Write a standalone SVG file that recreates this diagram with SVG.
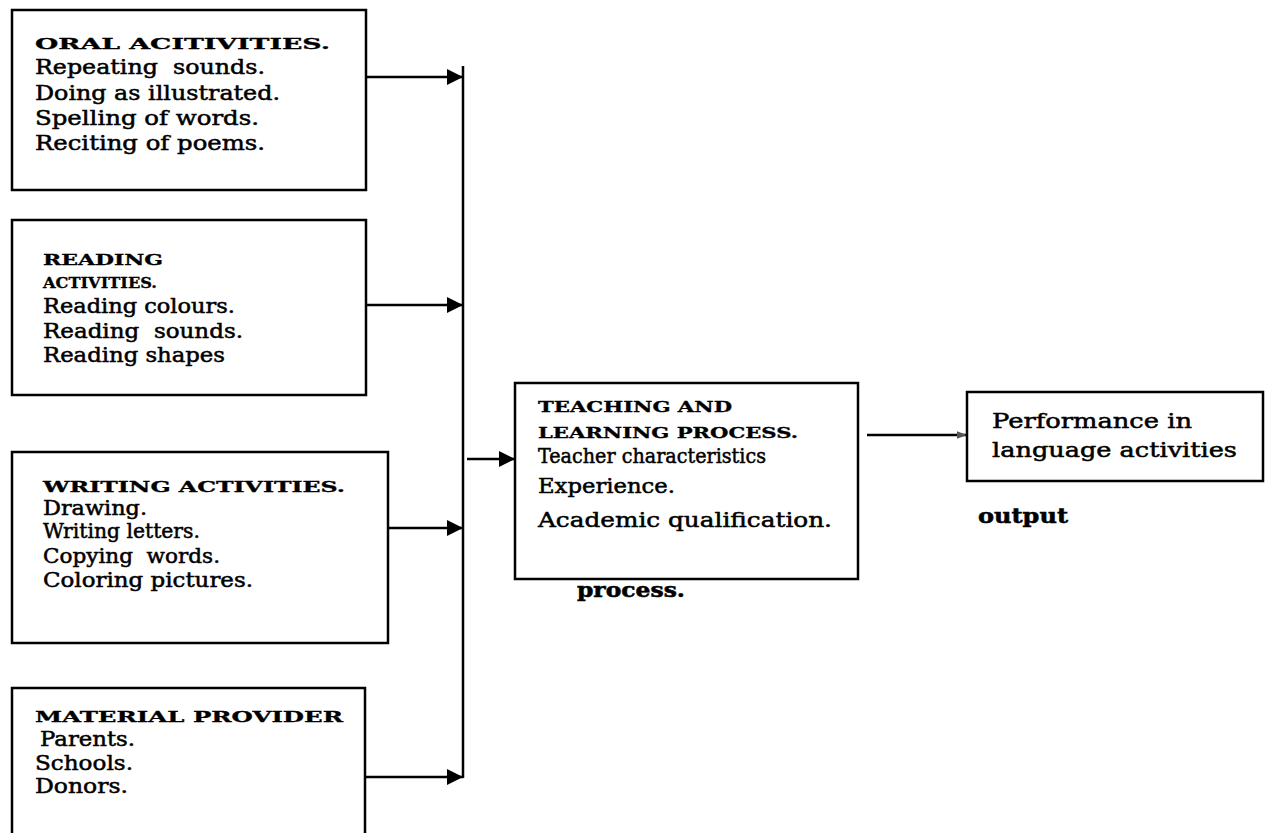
<svg xmlns="http://www.w3.org/2000/svg" width="1268" height="833" viewBox="0 0 1268 833">
<style>
.box{fill:#fff;stroke:#000;stroke-width:2.5}
.t{font-family:"DejaVu Serif","Liberation Serif",serif;fill:#000;font-size:20px;stroke:#000;stroke-width:0.5}
.h{font-family:"DejaVu Serif","Liberation Serif",serif;fill:#000;font-size:15px;font-weight:bold;stroke:#000;stroke-width:0.3}
.c{stroke:#000;stroke-width:2.5;fill:none}
</style>
<defs>
<marker id="ah" markerUnits="userSpaceOnUse" markerWidth="16" markerHeight="16" refX="14" refY="7" orient="auto" viewBox="0 0 14 14">
<path d="M0,0 L14,7 L0,14 Z" fill="#000"/>
</marker>
<marker id="ahs" markerUnits="userSpaceOnUse" markerWidth="10" markerHeight="10" refX="8" refY="4" orient="auto" viewBox="0 0 8 8">
<path d="M0,1 L8,4 L0,7 Z" fill="#555"/>
</marker>
</defs>
<rect width="1268" height="833" fill="#fff"/>
<g id="connectors">
<line class="c" x1="463" y1="66" x2="463" y2="778" stroke-width="3"/>
<line class="c" x1="366" y1="77" x2="463" y2="77" marker-end="url(#ah)"/>
<line class="c" x1="366" y1="305" x2="463" y2="305" marker-end="url(#ah)"/>
<line class="c" x1="388" y1="528" x2="463" y2="528" marker-end="url(#ah)"/>
<line class="c" x1="365" y1="777" x2="463" y2="777" marker-end="url(#ah)"/>
<line class="c" x1="467" y1="459" x2="515" y2="459" marker-end="url(#ah)"/>
<line class="c" x1="867" y1="435" x2="967" y2="435" stroke-width="2" marker-end="url(#ahs)"/>
</g>
<g id="label-process">
<text class="t" x="577" y="597" font-size="24" font-weight="bold" textLength="108" lengthAdjust="spacingAndGlyphs">process.</text>
</g>
<g id="oral">
<rect class="box" x="12" y="10" width="354" height="180"/>
<text class="h" x="35" y="49" textLength="295" lengthAdjust="spacingAndGlyphs">ORAL ACITIVITIES.</text>
<text class="t" x="35" y="74" textLength="230" lengthAdjust="spacingAndGlyphs" xml:space="preserve">Repeating  sounds.</text>
<text class="t" x="35" y="100" textLength="245" lengthAdjust="spacingAndGlyphs">Doing as illustrated.</text>
<text class="t" x="35" y="125" textLength="224" lengthAdjust="spacingAndGlyphs">Spelling of words.</text>
<text class="t" x="35" y="150" textLength="230" lengthAdjust="spacingAndGlyphs">Reciting of poems.</text>
</g>
<g id="reading">
<rect class="box" x="12" y="220" width="354" height="175"/>
<text class="h" x="43" y="265" textLength="120" lengthAdjust="spacingAndGlyphs">READING</text>
<text class="h" x="43" y="288" textLength="114" lengthAdjust="spacingAndGlyphs">ACTIVITIES.</text>
<text class="t" x="43" y="313" textLength="192" lengthAdjust="spacingAndGlyphs">Reading colours.</text>
<text class="t" x="43" y="338" textLength="200" lengthAdjust="spacingAndGlyphs" xml:space="preserve">Reading  sounds.</text>
<text class="t" x="43" y="362" textLength="182" lengthAdjust="spacingAndGlyphs">Reading shapes</text>
</g>
<g id="writing">
<rect class="box" x="12" y="452" width="376" height="191"/>
<text class="h" x="43" y="492" textLength="302" lengthAdjust="spacingAndGlyphs">WRITING ACTIVITIES.</text>
<text class="t" x="43" y="515" textLength="104" lengthAdjust="spacingAndGlyphs">Drawing.</text>
<text class="t" x="43" y="538" textLength="157" lengthAdjust="spacingAndGlyphs">Writing letters.</text>
<text class="t" x="43" y="563" textLength="177" lengthAdjust="spacingAndGlyphs" xml:space="preserve">Copying  words.</text>
<text class="t" x="43" y="587" textLength="210" lengthAdjust="spacingAndGlyphs">Coloring pictures.</text>
</g>
<g id="material">
<rect class="box" x="12" y="688" width="353" height="160"/>
<text class="h" x="35" y="722" textLength="308" lengthAdjust="spacingAndGlyphs">MATERIAL PROVIDER</text>
<text class="t" x="40" y="746" textLength="95" lengthAdjust="spacingAndGlyphs">Parents.</text>
<text class="t" x="35" y="770" textLength="98" lengthAdjust="spacingAndGlyphs">Schools.</text>
<text class="t" x="35" y="793" textLength="93" lengthAdjust="spacingAndGlyphs">Donors.</text>
</g>
<g id="teaching">
<rect class="box" x="515" y="383" width="343" height="196"/>
<text class="h" x="538" y="412" textLength="194" lengthAdjust="spacingAndGlyphs">TEACHING AND</text>
<text class="h" x="538" y="438" textLength="260" lengthAdjust="spacingAndGlyphs">LEARNING PROCESS.</text>
<text class="t" x="538" y="463" font-size="16" textLength="228" lengthAdjust="spacingAndGlyphs">Teacher characteristics</text>
<text class="t" x="538" y="493" textLength="137" lengthAdjust="spacingAndGlyphs">Experience.</text>
<text class="t" x="538" y="527" font-size="21" textLength="294" lengthAdjust="spacingAndGlyphs">Academic qualification.</text>
</g>
<g id="performance">
<rect class="box" x="967" y="392" width="296" height="89"/>
<text class="t" x="992" y="428" font-size="23" textLength="200" lengthAdjust="spacingAndGlyphs">Performance in</text>
<text class="t" x="992" y="457" font-size="23" textLength="245" lengthAdjust="spacingAndGlyphs">language activities</text>
</g>
<g id="label-output">
<text class="t" x="978" y="523" font-size="24" font-weight="bold" textLength="90" lengthAdjust="spacingAndGlyphs">output</text>
</g>
</svg>
